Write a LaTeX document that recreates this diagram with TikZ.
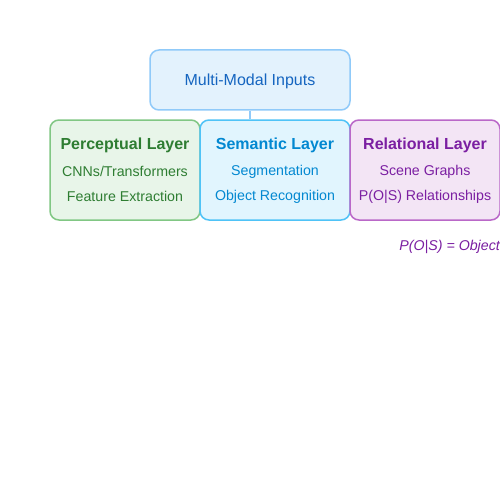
\documentclass[tikz,border=0pt]{standalone}
\usepackage{fontspec}
\setmainfont{Liberation Sans}
\usetikzlibrary{calc,positioning}
\definecolor{inFill}{HTML}{E3F2FD}
\definecolor{inLine}{HTML}{90CAF9}
\definecolor{inText}{HTML}{1565C0}
\definecolor{perFill}{HTML}{E8F5E9}
\definecolor{perLine}{HTML}{81C784}
\definecolor{perText}{HTML}{2E7D32}
\definecolor{semFill}{HTML}{E1F5FE}
\definecolor{semLine}{HTML}{4FC3F7}
\definecolor{semText}{HTML}{0288D1}
\definecolor{relFill}{HTML}{F3E5F5}
\definecolor{relLine}{HTML}{BA68C8}
\definecolor{relText}{HTML}{7B1FA2}
\tikzset{
  layerbox/.style={draw, line width=1.5pt, rounded corners=9pt, minimum width=150pt, minimum height=100pt, inner sep=0pt},
  headtext/.style={font=\fontsize{16}{18}\selectfont\bfseries, inner sep=0pt},
  subtext/.style={font=\fontsize{14.2}{16}\selectfont, inner sep=0pt}
}

\begin{document}
\begin{tikzpicture}[x=1pt,y=-1pt]
        \fill[white] (0,0) rectangle (500,500);
        \useasboundingbox (0,0) rectangle (500,500);
        \node[layerbox, draw=inLine, fill=inFill, minimum width=200pt, minimum height=60pt] (inputs) at (250,80) {};
        \node[font=\fontsize{16}{18}\selectfont, text=inText] at (250,81.5) {Multi-Modal Inputs};
        % three layers side by side
        \node[layerbox, draw=perLine, fill=perFill] (percep) at (125,170) {};
        \node[layerbox, draw=semLine, fill=semFill] (seman) at (275,170) {};
        \node[layerbox, draw=relLine, fill=relFill] (relat) at (425,170) {};
        \draw[inLine, line width=1.5pt] (inputs.south) -- (inputs.south |- seman.north);
        \begin{scope}[text=perText]
          \node[headtext] at (125,145.5) {Perceptual Layer};
          \node[subtext] at (125,171.5) {CNNs/Transformers};
          \node[subtext] at (125,196.5) {Feature Extraction};
        \end{scope}
        \begin{scope}[text=semText]
          \node[headtext] at (275,145.5) {Semantic Layer};
          \node[subtext] at (275,171.5) {Segmentation};
          \node[subtext] at (275,196.5) {Object Recognition};
        \end{scope}
        \begin{scope}[text=relText]
          \node[headtext] at (425,145.5) {Relational Layer};
          \node[subtext] at (425,171.5) {Scene Graphs};
          \node[subtext] at (425,196.5) {P(O|S) Relationships};
        \end{scope}
        \node[subtext, text=relText, font=\fontsize{14.2}{16}\selectfont\itshape, anchor=east] (note) at (500,246.5) {P(O|S) = Object};
      \end{tikzpicture}
\end{document}
